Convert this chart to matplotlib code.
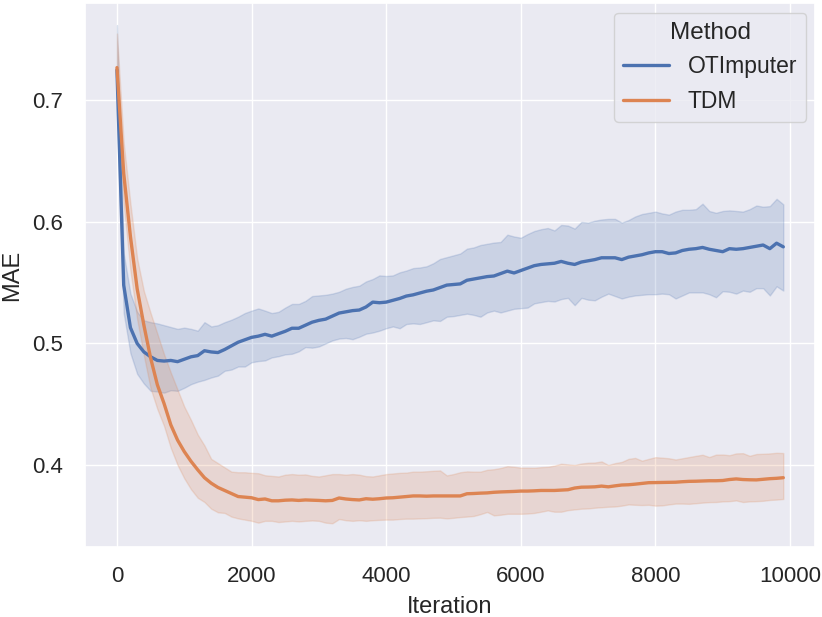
import numpy as np
import matplotlib
matplotlib.use("Agg")
import matplotlib.pyplot as plt
import seaborn as sns

# iterations 0, 100, ..., 9900
iterations = list(range(0, 10000, 100))

# OTImputer: mean MAE and band limits
ot_mean = [0.725, 0.548, 0.513, 0.500, 0.493, 0.489, 0.486, 0.4855, 0.486, 0.485,
           0.487, 0.489, 0.490, 0.494, 0.493, 0.4925, 0.495, 0.498, 0.501, 0.503,
           0.505, 0.506, 0.5075, 0.506, 0.508, 0.510, 0.5125, 0.5125, 0.515, 0.5175,
           0.519, 0.520, 0.5225, 0.525, 0.526, 0.527, 0.5275, 0.530, 0.534, 0.5335,
           0.534, 0.5355, 0.537, 0.539, 0.540, 0.5415, 0.543, 0.544, 0.546, 0.548,
           0.5485, 0.549, 0.552, 0.553, 0.554, 0.555, 0.5555, 0.5575, 0.5595, 0.558,
           0.560, 0.562, 0.564, 0.565, 0.5655, 0.566, 0.5675, 0.566, 0.565, 0.567,
           0.568, 0.569, 0.5705, 0.5705, 0.5705, 0.569, 0.571, 0.572, 0.573, 0.5745,
           0.5755, 0.5755, 0.574, 0.5745, 0.5765, 0.5775, 0.578, 0.579, 0.5775, 0.5765,
           0.5755, 0.578, 0.5775, 0.578, 0.579, 0.580, 0.581, 0.578, 0.5825, 0.5795]
ot_upper = [0.762, 0.574, 0.541, 0.526, 0.519, 0.5175, 0.5165, 0.515, 0.5135, 0.512,
            0.513, 0.512, 0.5105, 0.5175, 0.514, 0.515, 0.5175, 0.5195, 0.522, 0.525,
            0.527, 0.5288, 0.527, 0.525, 0.526, 0.5295, 0.5325, 0.5325, 0.535, 0.539,
            0.5395, 0.540, 0.541, 0.5425, 0.545, 0.5465, 0.5475, 0.551, 0.553, 0.556,
            0.5555, 0.556, 0.5585, 0.560, 0.562, 0.5625, 0.5635, 0.566, 0.5695, 0.571,
            0.5725, 0.574, 0.578, 0.579, 0.581, 0.582, 0.583, 0.5835, 0.5895, 0.588,
            0.587, 0.590, 0.5925, 0.594, 0.595, 0.593, 0.5975, 0.597, 0.5945, 0.600,
            0.5995, 0.601, 0.602, 0.6025, 0.6025, 0.5995, 0.6015, 0.6045, 0.6065, 0.6075,
            0.6085, 0.607, 0.606, 0.6085, 0.610, 0.610, 0.6105, 0.615, 0.609, 0.6075,
            0.609, 0.6095, 0.609, 0.6085, 0.6105, 0.6135, 0.6125, 0.613, 0.619, 0.6145]
ot_lower = [0.690, 0.525, 0.492, 0.475, 0.467, 0.461, 0.4605, 0.4595, 0.4615, 0.461,
            0.4635, 0.4665, 0.4685, 0.470, 0.472, 0.4735, 0.4775, 0.4785, 0.481, 0.481,
            0.4845, 0.4855, 0.486, 0.4885, 0.4895, 0.491, 0.4915, 0.4935, 0.497, 0.4965,
            0.4975, 0.500, 0.5025, 0.504, 0.5045, 0.5035, 0.5055, 0.508, 0.509, 0.5105,
            0.5125, 0.514, 0.5125, 0.516, 0.5165, 0.516, 0.5175, 0.519, 0.5185, 0.522,
            0.5225, 0.5235, 0.5245, 0.5235, 0.522, 0.5255, 0.527, 0.5255, 0.527, 0.5285,
            0.529, 0.5295, 0.533, 0.534, 0.535, 0.5345, 0.5365, 0.5375, 0.5315, 0.5375,
            0.536, 0.5355, 0.5385, 0.541, 0.539, 0.537, 0.5385, 0.5395, 0.540, 0.5405,
            0.5405, 0.541, 0.5405, 0.537, 0.5395, 0.542, 0.542, 0.542, 0.5405, 0.538,
            0.543, 0.5425, 0.541, 0.5435, 0.5425, 0.5455, 0.5455, 0.5395, 0.547, 0.5435]

# TDM: mean MAE and band limits
tdm_mean = [0.727, 0.640, 0.588, 0.545, 0.515, 0.488, 0.466, 0.4505, 0.433, 0.4205,
            0.411, 0.403, 0.396, 0.3895, 0.385, 0.3815, 0.379, 0.3765, 0.374, 0.3735,
            0.373, 0.3715, 0.372, 0.3705, 0.3705, 0.371, 0.3712, 0.3708, 0.3712, 0.371,
            0.3708, 0.3705, 0.3708, 0.3728, 0.372, 0.3715, 0.3712, 0.3722, 0.3718, 0.3722,
            0.3728, 0.373, 0.3735, 0.374, 0.3745, 0.3745, 0.3743, 0.3745, 0.3745, 0.3745,
            0.3745, 0.3745, 0.3763, 0.3765, 0.3768, 0.377, 0.3775, 0.3778, 0.378, 0.3782,
            0.3785, 0.3785, 0.3787, 0.379, 0.379, 0.379, 0.3793, 0.3796, 0.381, 0.3817,
            0.3818, 0.382, 0.3826, 0.382, 0.3828, 0.3835, 0.3837, 0.3842, 0.3848, 0.3854,
            0.3855, 0.3856, 0.3857, 0.3858, 0.3862, 0.3865, 0.3866, 0.3868, 0.387, 0.387,
            0.3872, 0.388, 0.3885, 0.388, 0.3878, 0.3877, 0.3882, 0.3887, 0.389, 0.3895]
tdm_upper = [0.755, 0.665, 0.615, 0.570, 0.543, 0.525, 0.508, 0.491, 0.476, 0.462,
             0.448, 0.437, 0.425, 0.416, 0.405, 0.4015, 0.398, 0.3945, 0.394, 0.394,
             0.3935, 0.3932, 0.3915, 0.391, 0.3905, 0.392, 0.3925, 0.392, 0.3922, 0.391,
             0.3905, 0.3915, 0.3925, 0.3925, 0.392, 0.3925, 0.392, 0.3908, 0.3905, 0.3915,
             0.3925, 0.393, 0.3935, 0.3937, 0.3945, 0.3945, 0.3948, 0.3952, 0.3955, 0.3914,
             0.3925, 0.394, 0.3947, 0.3945, 0.3945, 0.396, 0.3965, 0.3975, 0.399, 0.3985,
             0.3978, 0.3978, 0.3977, 0.3982, 0.3985, 0.3995, 0.401, 0.4005, 0.400, 0.4012,
             0.4018, 0.402, 0.4029, 0.400, 0.4015, 0.4025, 0.405, 0.4058, 0.4035, 0.405,
             0.4064, 0.406, 0.4055, 0.4045, 0.4055, 0.4065, 0.4075, 0.4084, 0.4065, 0.4085,
             0.4086, 0.408, 0.4095, 0.4097, 0.4075, 0.409, 0.4092, 0.4095, 0.410, 0.4098]
tdm_lower = [0.700, 0.615, 0.560, 0.520, 0.490, 0.463, 0.446, 0.432, 0.414, 0.400,
             0.389, 0.380, 0.373, 0.3695, 0.364, 0.361, 0.3605, 0.3575, 0.356, 0.355,
             0.354, 0.3525, 0.354, 0.354, 0.353, 0.3535, 0.354, 0.3535, 0.354, 0.3543,
             0.354, 0.3525, 0.352, 0.3555, 0.3545, 0.354, 0.3545, 0.354, 0.3545, 0.3548,
             0.355, 0.355, 0.3555, 0.3558, 0.3558, 0.356, 0.3562, 0.3565, 0.3566, 0.356,
             0.3565, 0.3571, 0.3575, 0.358, 0.3595, 0.3613, 0.3585, 0.359, 0.3598, 0.3598,
             0.3598, 0.360, 0.3605, 0.3615, 0.3626, 0.3615, 0.3615, 0.3628, 0.3634, 0.364,
             0.3642, 0.3648, 0.3652, 0.3656, 0.3658, 0.3665, 0.3675, 0.3672, 0.367, 0.3672,
             0.3665, 0.3667, 0.3675, 0.3682, 0.3682, 0.368, 0.3685, 0.369, 0.3694, 0.3695,
             0.370, 0.3702, 0.3708, 0.3695, 0.370, 0.3702, 0.3705, 0.3712, 0.3715, 0.372]

sns.set_theme(style="darkgrid")
plt.rcParams['font.family'] = ['Arial', 'Liberation Sans', 'DejaVu Sans']
pal = sns.color_palette("deep")

fig = plt.figure(figsize=(8.22, 6.17), dpi=100)
ax = fig.add_axes([0.1034, 0.1135, 0.888, 0.8817])

series = [("OTImputer", ot_mean, ot_lower, ot_upper, pal[0]),
          ("TDM", tdm_mean, tdm_lower, tdm_upper, pal[1])]
for name, m, lo, hi, c in series:
    ax.fill_between(iterations, lo, hi, color=c, alpha=0.2, linewidth=1)
    ax.plot(iterations, m, color=c, lw=2.4, label=name)

ax.set_xlim(-475, 10370)
ax.set_ylim(0.3325, 0.7802)
ax.set_xlabel("Iteration", fontsize=17, labelpad=6)
ax.set_ylabel("MAE", fontsize=17, labelpad=6)
ax.set_xticks([0, 2000, 4000, 6000, 8000, 10000])
ax.set_yticks([0.4, 0.5, 0.6, 0.7])
ax.tick_params(axis="x", labelsize=16, pad=8)
ax.tick_params(axis="y", labelsize=16, pad=10)
leg = ax.legend(title="Method", loc="upper right", fontsize=16.5, title_fontsize=17.5,
                bbox_to_anchor=(0.988, 0.982), borderaxespad=0)

fig.savefig("out.png", dpi=100)
